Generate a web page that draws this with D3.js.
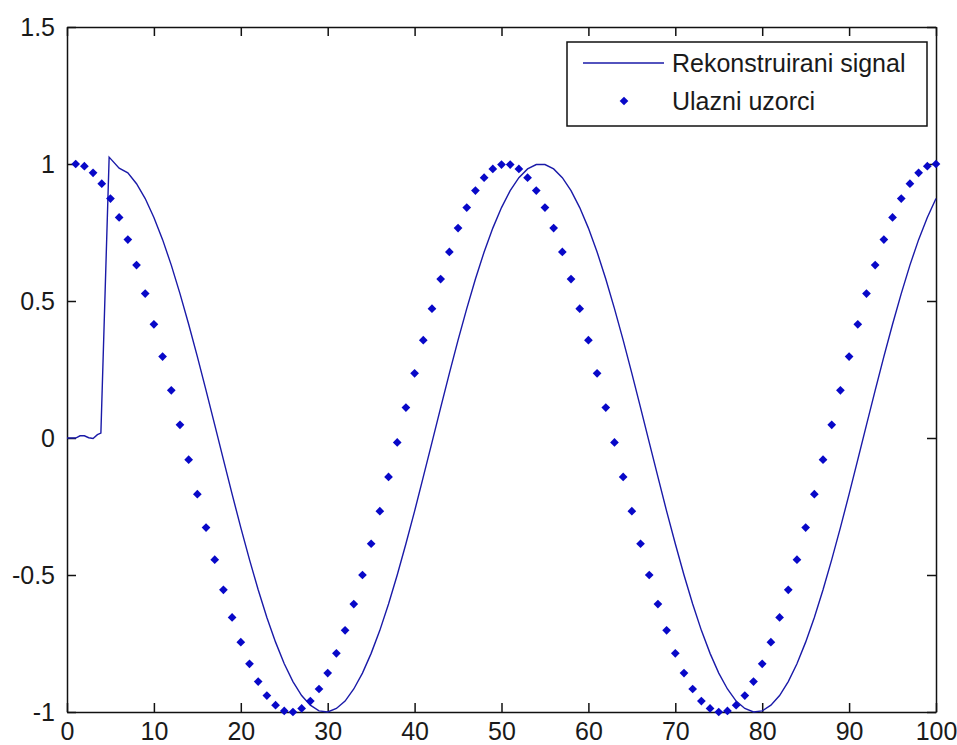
<!DOCTYPE html>
<html>
<head>
<meta charset="utf-8">
<script src="https://cdn.jsdelivr.net/npm/d3@7"></script>
<style>
  body { margin: 0; background: #fff; }
  text { font-family: "Liberation Sans", Arial, sans-serif; }
</style>
</head>
<body>
<div id="chart-container"></div>
<script>
// input samples, n = 1..100
var sampleValues = [
  1.000, 0.992, 0.968, 0.928, 0.874, 0.805, 0.724, 0.631, 0.527, 0.415,
  0.297, 0.174, 0.048, -0.079, -0.205, -0.327, -0.444, -0.554, -0.655, -0.745,
  -0.824, -0.889, -0.940, -0.975, -0.996, -1.000, -0.987, -0.960, -0.916, -0.858,
  -0.786, -0.702, -0.606, -0.500, -0.386, -0.267, -0.142, -0.016, 0.111, 0.236,
  0.357, 0.472, 0.580, 0.679, 0.766, 0.841, 0.903, 0.950, 0.982, 0.998,
  0.998, 0.982, 0.950, 0.903, 0.841, 0.766, 0.679, 0.580, 0.472, 0.357,
  0.236, 0.111, -0.016, -0.142, -0.267, -0.386, -0.500, -0.606, -0.702, -0.786,
  -0.858, -0.916, -0.960, -0.987, -1.000, -0.996, -0.975, -0.940, -0.889, -0.824,
  -0.745, -0.655, -0.554, -0.444, -0.327, -0.205, -0.079, 0.048, 0.174, 0.297,
  0.415, 0.527, 0.631, 0.724, 0.805, 0.874, 0.928, 0.968, 0.992, 1.000
];

// reconstructed signal: start-up part, then values at t = 6..100
var startT = [0, 1, 1.5, 2, 2.5, 3, 3.5, 3.9, 4.85];
var startV = [0, 0, 0.008, 0.008, 0.001, -0.002, 0.012, 0.018, 1.025];
var signalV = [
  0.985, 0.968, 0.928, 0.874, 0.805, 0.724, 0.631, 0.527, 0.415, 0.297,
  0.174, 0.048, -0.079, -0.205, -0.327, -0.444, -0.554, -0.655, -0.745, -0.824,
  -0.889, -0.940, -0.975, -0.996, -1.000, -0.987, -0.960, -0.916, -0.858, -0.786,
  -0.702, -0.606, -0.500, -0.386, -0.267, -0.142, -0.016, 0.111, 0.236, 0.357,
  0.472, 0.580, 0.679, 0.766, 0.841, 0.903, 0.950, 0.982, 0.998, 0.998,
  0.982, 0.950, 0.903, 0.841, 0.766, 0.679, 0.580, 0.472, 0.357, 0.236,
  0.111, -0.016, -0.142, -0.267, -0.386, -0.500, -0.606, -0.702, -0.786, -0.858,
  -0.916, -0.960, -0.987, -1.000, -0.996, -0.975, -0.940, -0.889, -0.824, -0.745,
  -0.655, -0.554, -0.444, -0.327, -0.205, -0.079, 0.048, 0.174, 0.297, 0.415,
  0.527, 0.631, 0.724, 0.805, 0.874
];

var xTicks = [0, 10, 20, 30, 40, 50, 60, 70, 80, 90, 100];
var yTicks = [-1, -0.5, 0, 0.5, 1, 1.5];
var legendLabels = ["Rekonstruirani signal", "Ulazni uzorci"];

var margin = {top: 27, right: 21, bottom: 33, left: 67},
    width = 957 - margin.left - margin.right,
    height = 745 - margin.top - margin.bottom;

var svg = d3.select("#chart-container").append("svg")
  .attr("width", 957).attr("height", 745);
var g = svg.append("g").attr("transform", "translate(" + margin.left + "," + margin.top + ")");

var x = d3.scaleLinear().domain([0, 100]).range([0, width]);
var y = d3.scaleLinear().domain([-1, 1.5]).range([height, 0]);

var fmt = function(d) { return String(d); };

g.append("g").attr("class", "axis").attr("transform", "translate(0," + height + ")")
  .call(d3.axisBottom(x).tickValues(xTicks).tickFormat(fmt).tickSizeInner(-9).tickSizeOuter(0).tickPadding(10));
g.append("g").attr("class", "axis")
  .call(d3.axisLeft(y).tickValues(yTicks).tickFormat(fmt).tickSizeInner(-9).tickSizeOuter(0).tickPadding(12));
g.append("g").attr("class", "axis")
  .call(d3.axisTop(x).tickValues(xTicks).tickFormat("").tickSizeInner(-9).tickSizeOuter(0));
g.append("g").attr("class", "axis").attr("transform", "translate(" + width + ",0)")
  .call(d3.axisRight(y).tickValues(yTicks).tickFormat("").tickSizeInner(-9).tickSizeOuter(0));

g.selectAll(".axis path, .axis line").attr("stroke", "#111").attr("stroke-width", 1.5);
g.selectAll(".axis text").attr("font-size", 25).attr("fill", "#1a1a1a").attr("font-family", "Liberation Sans, Arial, sans-serif");

// signal line
var linePts = startT.map(function(t, i) { return [t, startV[i]]; })
  .concat(signalV.map(function(v, i) { return [i + 6, v]; }));

g.append("path")
  .datum(linePts)
  .attr("fill", "none")
  .attr("stroke", "#1a1aa8")
  .attr("stroke-width", 1.4)
  .attr("d", d3.line().x(function(d) { return x(d[0]); }).y(function(d) { return y(d[1]); }));

// sample markers (diamonds)
var diamond = d3.symbol().type(d3.symbolSquare).size(38);
g.append("g")
  .selectAll("path")
  .data(sampleValues)
  .enter()
  .append("path")
    .attr("d", diamond)
    .attr("transform", function(d, i) { return "translate(" + x(i + 1) + "," + y(d) + ") rotate(45)"; })
    .attr("fill", "#0808c8");

// legend
var legend = svg.append("g").attr("class", "legend");
legend.append("rect")
  .attr("x", 567).attr("y", 42).attr("width", 360).attr("height", 84)
  .attr("fill", "#fff").attr("stroke", "#111").attr("stroke-width", 1.5);
legend.append("line")
  .attr("x1", 583).attr("x2", 664).attr("y1", 63).attr("y2", 63)
  .attr("stroke", "#1a1aa8").attr("stroke-width", 1.4);
legend.append("path")
  .attr("d", diamond)
  .attr("transform", "translate(624,101) rotate(45)")
  .attr("fill", "#0808c8");
legend.selectAll("text")
  .data(legendLabels)
  .enter()
  .append("text")
    .attr("x", 672)
    .attr("y", function(d, i) { return 72 + i * 38; })
    .attr("font-size", 25)
    .attr("fill", "#1a1a1a")
    .text(function(d) { return d; });
</script>
</body>
</html>
